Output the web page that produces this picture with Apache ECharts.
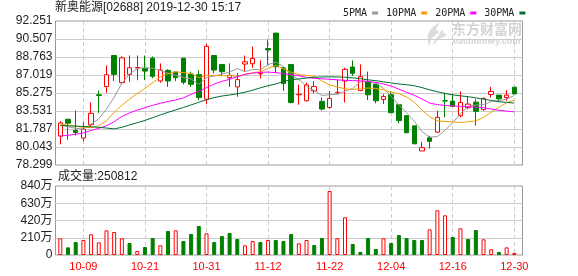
<!DOCTYPE html>
<html>
<head>
<meta charset="utf-8">
<script src="https://cdn.jsdelivr.net/npm/echarts@6/dist/echarts.min.js"></script>
<style>
html,body{margin:0;padding:0;background:#fff;}
#chart{width:578px;height:276px;}
</style>
</head>
<body>
<div id="chart"></div>
<script>
// Trading days shown on the daily K-line (2019, HKEX)
const dates = ['10-03','10-04','10-08','10-09','10-10','10-11','10-14','10-15','10-16','10-17',
  '10-18','10-21','10-22','10-23','10-24','10-25','10-28','10-29','10-30','10-31',
  '11-01','11-04','11-05','11-06','11-07','11-08','11-11','11-12','11-13','11-14',
  '11-15','11-18','11-19','11-20','11-21','11-22','11-25','11-26','11-27','11-28',
  '11-29','12-02','12-03','12-04','12-05','12-06','12-09','12-10','12-11','12-12',
  '12-13','12-16','12-17','12-18','12-19','12-20','12-23','12-24','12-27','12-30'];

const opens = [81.10,82.73,81.64,80.91,82.22,85.10,85.90,88.91,86.28,87.08,
  87.70,87.66,88.65,86.44,87.47,87.31,88.65,87.11,87.05,84.68,
  88.91,88.04,86.76,85.87,88.08,88.11,87.13,89.58,91.08,87.72,
  88.04,85.10,84.52,85.48,84.46,83.88,85.30,86.44,87.79,85.51,
  86.35,86.12,84.65,85.10,84.14,83.08,82.09,79.66,80.94,81.48,
  84.53,84.49,83.08,83.85,84.39,83.66,85.13,85.07,84.84,85.84];
const closes = [82.38,82.35,81.45,81.77,83.31,85.04,87.05,87.08,88.68,87.72,
  87.74,87.40,86.89,87.50,86.44,86.76,86.32,86.12,84.84,89.80,
  87.50,87.34,86.99,86.57,88.30,88.62,87.17,89.45,87.82,86.19,
  84.36,85.14,86.06,85.90,83.72,84.75,85.34,87.56,87.18,86.86,
  85.10,84.52,84.94,83.37,82.60,81.42,80.36,79.98,80.59,82.92,
  84.50,83.98,84.36,84.20,83.50,84.75,85.42,84.71,85.07,85.19];
const lows = [80.30,80.75,81.16,80.59,81.96,83.34,85.29,86.44,86.12,86.35,
  86.51,86.54,86.70,86.28,85.87,86.44,86.12,85.87,84.59,84.20,
  87.18,86.92,85.87,84.91,87.40,87.72,86.67,87.98,87.21,85.48,
  84.27,84.14,84.46,85.23,83.56,83.75,85.16,84.36,86.92,85.51,
  84.59,84.27,84.20,83.31,82.35,81.40,80.30,79.66,79.88,81.42,
  82.92,83.95,82.92,83.70,82.12,83.56,84.84,84.46,84.52,85.16];
const highs = [82.54,82.79,83.56,82.44,84.36,85.51,87.95,88.91,88.84,88.91,
  88.91,88.91,88.81,88.14,87.56,87.31,88.65,87.34,87.47,90.03,
  88.91,88.04,88.14,87.20,88.91,89.77,88.43,90.44,91.08,87.80,
  88.04,86.09,86.28,86.44,84.84,85.48,86.57,87.72,88.43,88.04,
  87.34,86.22,85.16,85.42,84.14,83.08,82.09,80.55,81.13,83.56,
  85.32,85.16,85.42,84.90,84.68,84.84,85.87,85.07,85.55,85.84];

// Turnover in units of 万 shares
const volumes = [203,93,158,183,252,154,300,280,203,146,
  49,97,207,118,292,300,170,256,353,264,
  158,231,268,195,118,170,158,183,183,170,
  256,142,183,122,207,779,203,459,134,37,
  207,73,203,146,243,207,183,183,312,544,
  483,219,325,195,304,191,69,37,93,25.0812];

const ma5 = [82.20,82.00,81.85,81.78,82.25,82.78,83.72,84.85,86.23,87.11,
  87.65,87.72,87.69,87.45,87.19,87.00,86.78,86.63,86.10,86.77,
  86.92,87.12,87.29,87.64,87.34,87.56,87.53,88.02,88.27,87.85,
  87.00,86.59,85.91,85.53,85.04,85.11,85.15,85.45,85.71,86.34,
  86.41,86.24,85.72,84.96,84.11,83.37,82.54,81.55,80.99,81.05,
  81.67,82.39,83.27,83.99,84.11,84.16,84.45,84.52,84.69,85.03];
const ma10 = [82.30,82.15,82.05,81.95,81.92,82.10,82.60,83.40,84.10,84.68,
  85.22,85.72,86.27,86.84,87.15,87.33,87.25,87.16,86.77,86.98,
  86.96,86.95,86.96,86.87,87.05,87.24,87.33,87.66,87.96,87.60,
  87.28,87.06,86.97,86.90,86.44,86.06,85.87,85.68,85.62,85.69,
  85.76,85.70,85.59,85.33,85.22,84.89,84.39,83.63,82.97,82.58,
  82.52,82.47,82.41,82.49,82.58,82.91,83.42,83.89,84.34,84.57];
const ma20 = [81.10,81.18,81.28,81.40,81.65,81.85,82.10,82.50,83.00,83.35,
  83.62,83.85,84.08,84.28,84.45,84.60,84.80,85.15,85.45,85.80,
  86.15,86.40,86.60,86.85,87.10,87.20,87.28,87.30,87.25,87.15,
  87.05,86.95,86.78,86.70,86.65,86.60,86.55,86.50,86.48,86.45,
  86.40,86.30,86.15,85.95,85.65,85.35,85.05,84.70,84.30,84.15,
  84.07,84.02,83.98,83.95,83.90,83.85,83.72,83.60,83.52,83.45];
const ma30 = [82.12,82.10,82.07,82.03,82.00,81.95,81.88,81.80,81.95,82.18,
  82.40,82.62,82.88,83.15,83.40,83.64,83.87,84.12,84.38,84.62,
  84.83,84.98,85.08,85.20,85.35,85.55,85.78,85.98,86.15,86.40,
  86.55,86.64,86.73,86.80,86.83,86.84,86.83,86.80,86.74,86.66,
  86.55,86.47,86.36,86.25,86.15,86.08,85.98,85.80,85.58,85.40,
  85.22,85.10,85.00,84.92,84.80,84.68,84.55,84.43,84.37,84.30];

const tickDates = ['10-09','10-21','10-31','11-12','11-22','12-04','12-16','12-30'];
const priceMin = 78.299, priceMax = 92.251, priceStep = 1.744;
const volMax = 840, volStep = 210;

const RED = '#ff0000', GREEN = '#008000';
const tickIdx = tickDates.map(d => dates.indexOf(d));
const idx = dates.map((d, i) => i);

const candleData = idx.map(i => [i, opens[i], closes[i], lows[i], highs[i]]);
// volume bars: hollow red when the close rose versus the prior close, solid green otherwise
const volData = idx.map(i => {
  const up = i === 0 || closes[i] >= closes[i - 1];
  return {
    value: [i, volumes[i]],
    itemStyle: up ? {color: '#fff', borderColor: RED, borderWidth: 1}
                  : {color: GREEN, borderColor: GREEN, borderWidth: 1}
  };
});
const line = arr => idx.map(i => [i, arr[i]]);

const FONT = '"Liberation Sans","Noto Sans CJK SC",sans-serif';
const xRange = {min: -0.624, max: 60.065};

const chart = echarts.init(document.getElementById('chart'), null, {renderer: 'canvas'});
chart.setOption({
  animation: false,
  backgroundColor: '#fff',
  legend: {
    left: 338, top: 3, align: 'right', icon: 'rect',
    itemWidth: 6, itemHeight: 3, itemGap: 8, selectedMode: false,
    textStyle: {fontFamily: '"DejaVu Sans Mono",monospace', fontSize: 10, color: '#222'},
    data: ['5PMA', '10PMA', '20PMA', '30PMA']
  },
  grid: [
    {left: 55.5, top: 21, width: 467, height: 144, show: true, borderColor: '#999', borderWidth: 1},
    {left: 55.5, top: 186, width: 467, height: 69, show: true, borderColor: '#999', borderWidth: 1}
  ],
  xAxis: [
    Object.assign({type: 'value', gridIndex: 0,
      axisLine: {show: false}, axisTick: {show: false, customValues: tickIdx},
      axisLabel: {show: false},
      splitLine: {show: true, lineStyle: {color: '#ccc', type: [4, 3]}}}, xRange),
    Object.assign({type: 'value', gridIndex: 1,
      axisLine: {show: false}, axisTick: {show: false, customValues: tickIdx},
      axisLabel: {show: true, customValues: tickIdx, margin: 6, color: RED, fontSize: 11,
        fontFamily: FONT, formatter: v => dates[Math.round(v)]},
      splitLine: {show: true, lineStyle: {color: '#ccc', type: [4, 3]}}}, xRange)
  ],
  yAxis: [
    {type: 'value', gridIndex: 0, min: priceMin, max: priceMax, interval: priceStep,
      axisLine: {show: false}, axisTick: {show: false},
      axisLabel: {margin: 3, fontSize: 12, color: '#222', fontFamily: FONT, formatter: v => v.toFixed(3)},
      splitLine: {lineStyle: {color: '#ccc'}, showMinLine: false, showMaxLine: false}},
    {type: 'value', gridIndex: 1, min: 0, max: volMax, interval: volStep,
      axisLine: {show: false}, axisTick: {show: false},
      axisLabel: {margin: 3, fontSize: 12, color: '#222', fontFamily: FONT,
        formatter: v => v === 0 ? '0' : v + '万'},
      splitLine: {lineStyle: {color: '#ccc'}, showMinLine: false, showMaxLine: false}}
  ],
  series: [
    {type: 'candlestick', name: 'K', xAxisIndex: 0, yAxisIndex: 0, barWidth: 5,
      itemStyle: {color: '#fff', color0: GREEN, borderColor: RED, borderColor0: GREEN, borderWidth: 1},
      data: candleData},
    {type: 'line', name: '5PMA', xAxisIndex: 0, yAxisIndex: 0, data: line(ma5), showSymbol: false,
      color: '#999999', lineStyle: {width: 1, color: '#999999'}},
    {type: 'line', name: '10PMA', xAxisIndex: 0, yAxisIndex: 0, data: line(ma10), showSymbol: false,
      color: '#f5a000', lineStyle: {width: 1, color: '#f5a000'}},
    {type: 'line', name: '20PMA', xAxisIndex: 0, yAxisIndex: 0, data: line(ma20), showSymbol: false,
      color: '#ff00ff', lineStyle: {width: 1, color: '#ff00ff'}},
    {type: 'line', name: '30PMA', xAxisIndex: 0, yAxisIndex: 0, data: line(ma30), showSymbol: false,
      color: '#007030', lineStyle: {width: 1, color: '#007030'}},
    {type: 'bar', name: 'VOL', xAxisIndex: 1, yAxisIndex: 1, barWidth: 4, data: volData}
  ],
  graphic: [
    {type: 'text', left: 55, top: 2, silent: true,
      style: {text: '新奥能源[02688] 2019-12-30 15:17', font: '12px ' + FONT, fill: '#222'}},
    {type: 'text', left: 58, top: 171, silent: true,
      style: {text: '成交量:' + Math.round(volumes[volumes.length - 1] * 10000), font: '12px ' + FONT, fill: '#222'}},
    // brand watermark in the top-right corner of the price panel
    {type: 'polygon', silent: true, z: -1,
      shape: {points: [[440, 23], [433, 27], [428, 34], [428, 41], [429, 46], [431, 40], [434, 36], [439, 32], [436, 29]], smooth: 0.3},
      style: {fill: '#dcdcdc'}},
    {type: 'polygon', silent: true, z: -1,
      shape: {points: [[442, 30], [439, 35], [435, 40], [433, 45], [438, 40], [443, 37], [447, 35], [444, 33]], smooth: 0.3},
      style: {fill: '#dcdcdc'}},
    {type: 'text', left: 452, top: 22, silent: true, z: -1,
      style: {text: '东方财富网', font: 'bold 14px "Noto Sans CJK SC",sans-serif', fill: '#d4d4d4'}},
    {type: 'text', left: 453, top: 37, silent: true, z: -1,
      style: {text: 'eastmoney.com', font: 'bold 9px "Liberation Sans",sans-serif', fill: '#d4d4d4'}}
  ]
});
</script>
</body>
</html>
